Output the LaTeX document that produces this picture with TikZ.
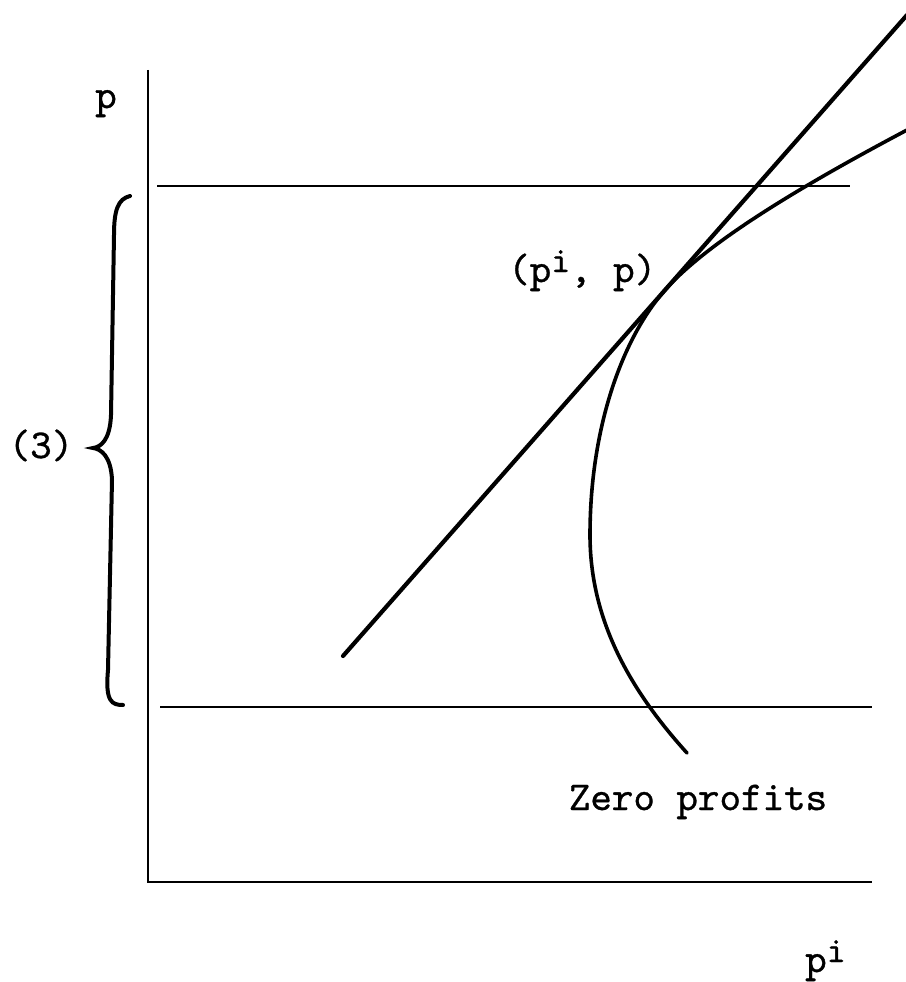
\documentclass[tikz,border=0pt]{standalone}
\usepackage{fontspec}
\newfontfamily\tw{lmmono10-regular.otf}[FakeBold=0.8]
\tikzset{
  lbl/.style={font=\tw\fontsize{41}{44}\selectfont, inner sep=0pt},
  axis/.style={line width=2.8pt},
  guide/.style={line width=2.6pt},
  tangent/.style={line width=4.2pt, line cap=round},
  profit/.style={line width=3.6pt, line cap=round},
  bracestyle/.style={line width=4pt, line cap=round}
}
\newcommand{\supi}{\raisebox{10pt}{\fontsize{36}{36}\selectfont i}}
\begin{document}
\begin{tikzpicture}[x=1pt,y=-1pt]
\useasboundingbox (0,0) rectangle (905,982);
% axes
\coordinate (ytop) at (148,70);
\coordinate (origin) at (148,882);
\coordinate (xend) at (872,882);
\draw[axis] (ytop) -- (origin) -- (xend);
% horizontal bounds
\coordinate (hu1) at (157,186);
\coordinate (hu2) at (850,186);
\coordinate (hl1) at (160,707);
\coordinate (hl2) at (872,707);
\draw[guide] (hu1) -- (hu2);
\draw[guide] (hl1) -- (hl2);
% tangent line
\coordinate (t1) at (343,656);
\coordinate (t2) at (907,15);
\draw[tangent] (t1) -- (t2);
% zero profit curve
\coordinate (zlow) at (687,753);
\coordinate (zleft) at (590,535);
\coordinate (ztan) at (665,290);
\coordinate (zhigh) at (907,130);
\draw[profit] (zlow) .. controls (630,690) and (590,620) .. (zleft)
  .. controls (590,430) and (621,340) .. (ztan)
  .. controls (705,245) and (790,192) .. (zhigh);
% brace
\draw[bracestyle] (130,196) .. controls (118,199) and (114,210) .. (114,235)
  -- (111,415) .. controls (110,440) and (101,447) .. (93,448)
  .. controls (101,449) and (111,456) .. (112,480)
  -- (108,670) .. controls (105,702) and (112,705) .. (123,705);
% labels
\node[lbl, anchor=base] (plab) at (106,108) {p};
\node[lbl, anchor=base] (three) at (41,458) {(3)};
\node[lbl, anchor=base west] (pt) at (508,282) {(p\supi, p)};
\node[lbl, anchor=base] (zp) at (698,810) {Zero profits};
\node[lbl, anchor=base west] (pilab) at (805,972) {p\supi};
\end{tikzpicture}
\end{document}
